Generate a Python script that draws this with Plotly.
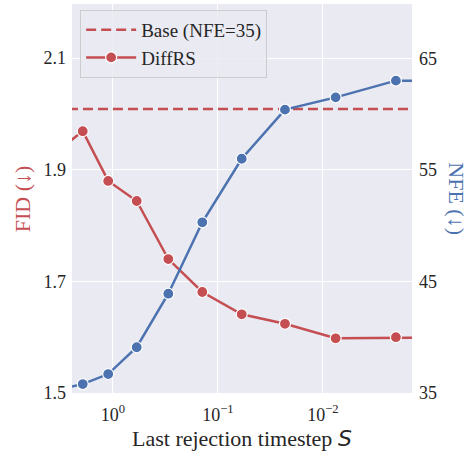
import plotly.graph_objects as go

# Data
S_values = [3.3, 1.94, 1.11, 0.594, 0.297, 0.141, 0.0594, 0.023, 0.00757, 0.00202, 0.0002]
fid_values = [1.935, 1.969, 1.880, 1.844, 1.740, 1.681, 1.641, 1.624, 1.598, 1.600, 1.600]
nfe_values = [35.3, 35.8, 36.7, 39.1, 43.9, 50.3, 56.0, 60.4, 61.5, 63.0, 63.0]
base_fid = 2.009
base_x = [100, 1e-6]

x_tickvals = [1, 0.1, 0.01]
x_ticktext = ["10<sup>0</sup>", "10<sup>\u22121</sup>", "10<sup>\u22122</sup>"]
fid_ticks = [1.5, 1.7, 1.9, 2.1]
nfe_ticks = [35, 45, 55, 65]

RED = "#c44e52"
BLUE = "#4c72b0"
FONT = "Liberation Serif, Times New Roman, Times, serif"

fig = go.Figure()
fig.add_trace(go.Scatter(
    x=base_x, y=[base_fid, base_fid], mode="lines", name="Base (NFE=35)",
    line=dict(color=RED, width=2.5, dash="10px,5px"), yaxis="y"))
fig.add_trace(go.Scatter(
    x=S_values, y=fid_values, mode="lines+markers", name="DiffRS",
    line=dict(color=RED, width=2.5),
    marker=dict(size=11, color=RED, line=dict(color="white", width=1.2)), yaxis="y"))
fig.add_trace(go.Scatter(
    x=S_values, y=nfe_values, mode="lines+markers", name="NFE", showlegend=False,
    line=dict(color=BLUE, width=2.5),
    marker=dict(size=11, color=BLUE, line=dict(color="white", width=1.2)), yaxis="y2"))

fig.update_layout(
    width=473, height=452,
    margin=dict(l=72, r=61, t=4, b=59),
    paper_bgcolor="white", plot_bgcolor="#eaeaf2",
    font=dict(family=FONT, size=17, color="#262626"),
    xaxis=dict(type="log", range=[0.39, -2.848], tickvals=x_tickvals, ticktext=x_ticktext,
               showgrid=True, gridcolor="white", gridwidth=1.3, zeroline=False,
               showline=False, ticks="", ticklabelstandoff=9,
               tickfont=dict(family=FONT, size=18)),
    yaxis=dict(range=[1.5, 2.197], tickvals=fid_ticks, ticktext=[str(v) for v in fid_ticks],
               showgrid=True, gridcolor="white", gridwidth=1.3, zeroline=False,
               ticks="", ticklabelstandoff=5, tickfont=dict(family=FONT, size=18)),
    yaxis2=dict(range=[35, 69.87], tickvals=nfe_ticks, overlaying="y", side="right",
                showgrid=False, zeroline=False, ticks="", ticklabelstandoff=6,
                tickfont=dict(family=FONT, size=18)),
    legend=dict(x=0.024, y=0.985, xanchor="left", yanchor="top",
                bgcolor="rgba(234,234,242,0.85)", bordercolor="#cccccc", borderwidth=1,
                font=dict(family=FONT, size=19), itemwidth=50, tracegroupgap=0),
    showlegend=True,
    annotations=[
        dict(text="Last rejection timestep <i><span style='font-family:DejaVu Sans'>S</span></i>",
             xref="paper", yref="paper", x=0.5, y=-0.118, xanchor="center", yanchor="middle",
             showarrow=False, font=dict(family=FONT, size=22, color="#262626")),
        dict(text="FID (\u2193)", xref="paper", yref="paper", x=-0.145, y=0.5,
             xanchor="center", yanchor="middle", textangle=-90, showarrow=False,
             font=dict(family=FONT, size=22, color=RED)),
        dict(text="NFE (\u2193)", xref="paper", yref="paper", x=1.13, y=0.5,
             xanchor="center", yanchor="middle", textangle=90, showarrow=False,
             font=dict(family=FONT, size=22, color=BLUE)),
    ],
)

fig.write_html("out.html", config={"displayModeBar": False},
               post_script="document.body.style.margin='0';")
